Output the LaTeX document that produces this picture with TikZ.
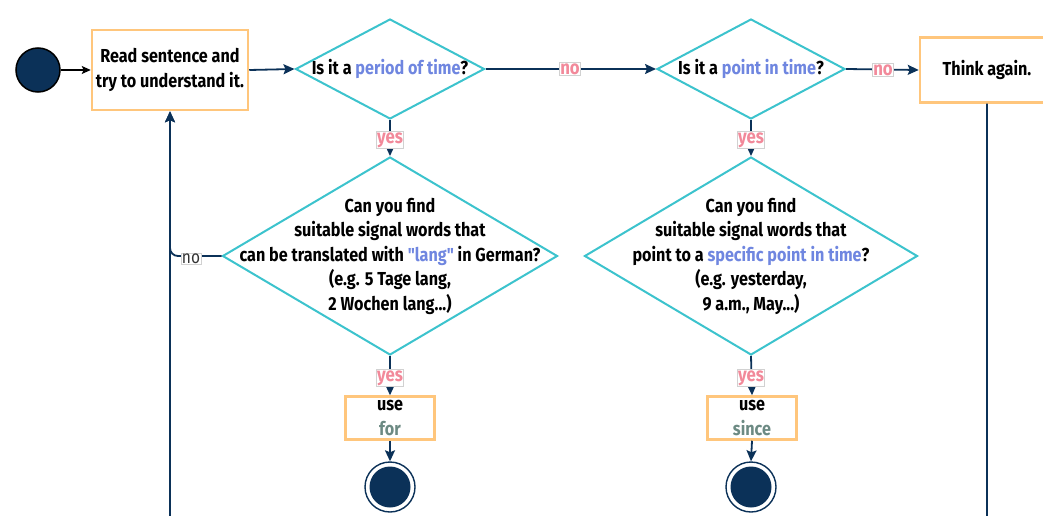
\documentclass[tikz,border=0pt]{standalone}
\usepackage{fontspec}
\setmainfont{Fira Sans}[FakeStretch=0.86, Ligatures=TeXOff]
\usetikzlibrary{shapes.geometric,arrows.meta}
\definecolor{navy}{HTML}{0B3158}
\definecolor{cyanb}{HTML}{3CC3CD}
\definecolor{orangeb}{HTML}{FFC67C}
\definecolor{hl}{HTML}{6F86E0}
\definecolor{pinkt}{HTML}{F2899A}
\definecolor{sage}{HTML}{6C8A83}
\tikzset{
  txt/.style={font=\fontsize{18.8}{24.5}\selectfont\bfseries, align=center, inner sep=0pt},
  box/.style={draw=orangeb, line width=2.5pt, fill=white, txt},
  dia/.style={diamond, draw=cyanb, line width=2pt, inner sep=0pt, fill=white},
  flow/.style={draw=navy, line width=1.8pt, -{Stealth[length=11pt,width=10pt,inset=2pt]}},
  thinflow/.style={draw=black, line width=1.1pt, -{Stealth[length=9pt,width=8pt,inset=2pt]}},
  lab/.style={draw=black!18, line width=0.6pt, fill=white, inner sep=0.8pt, text=pinkt,
    font=\fontsize{19.5}{22}\selectfont\bfseries},
  labg/.style={draw=black!18, line width=0.6pt, fill=white, inner sep=0.8pt, text=black!80,
    font=\fontsize{18}{22}\selectfont},
  startc/.style={circle, fill=navy, draw=black, line width=1.5pt, minimum size=44pt, inner sep=0pt},
  endo/.style={circle, draw=navy, line width=1.4pt, fill=white, minimum size=50pt, inner sep=0pt},
  endi/.style={circle, fill=navy, minimum size=41pt, inner sep=0pt},
}
\begin{document}
\begin{tikzpicture}[x=1pt,y=-1pt]
\useasboundingbox (0,0) rectangle (1043,516);
\clip (0,0) rectangle (1043,516);
% nodes
\node[startc] (s) at (38,70) {};
\node[box, minimum width=156pt, minimum height=80pt] (read) at (170,70) {Read sentence and\\try to understand it.};
\node[dia, minimum width=189pt, minimum height=100pt] (d1) at (390,69) {};
\node[txt] (d1t) at (d1) {Is it a \textcolor{hl}{period of time}?};
\node[dia, minimum width=188pt, minimum height=100pt] (d2) at (751,69) {};
\node[txt] (d2t) at (d2) {Is it a \textcolor{hl}{point in time}?};
\node[box, minimum width=134pt, minimum height=65pt] (think) at (987,70) {Think again.};
\node[dia, minimum width=335pt, minimum height=198pt] (d3) at (390,256) {};
\node[txt] (d3t) at (d3) {Can you find\\suitable signal words that\\can be translated with \textcolor{hl}{"lang"} in German?\\(e.g. 5 Tage lang,\\2 Wochen lang...)};
\node[dia, minimum width=333pt, minimum height=198pt] (d4) at (751,256) {};
\node[txt] (d4t) at (d4) {Can you find\\suitable signal words that\\point to a \textcolor{hl}{specific point in time}?\\(e.g. yesterday,\\9 a.m., May...)};
\node[box, minimum width=89pt, minimum height=43pt] (u1) at (390,418) {use\\\textcolor{sage}{for}};
\node[box, minimum width=89pt, minimum height=43pt] (u2) at (752,418) {use\\\textcolor{sage}{since}};
\node[endo] (e1) at (390,487) {};
\node[endi] (e1i) at (e1) {};
\node[endo] (e2) at (751,487) {};
\node[endi] (e2i) at (e2) {};
\coordinate (loopR) at (987,530);
% connectors
\draw[thinflow] (s.east) -- (read.west);
\draw[flow] (read.east) -- (d1.west);
\draw[flow] (d1.east) -- (d2.west);
\draw[flow] (d2.east) -- (think.west);
\draw[flow] (d1.south) -- (d3.north);
\draw[flow] (d2.south) -- (d4.north);
\draw[flow] (d3.south) -- (u1.north);
\draw[flow] (d4.south) -- (u2.north);
\draw[flow] (u1.south) -- (e1.north);
\draw[flow] (u2.south) -- (e2.north);
\draw[flow, rounded corners=8pt] (d3.west) -| (read.south);
\draw[flow, rounded corners=8pt] (think.south) -- (loopR) -| (read.south);
% labels
\node[lab] (n1) at (570,69) {no};
\node[lab] (n2) at (883,70) {no};
\node[lab] (y1) at (390,140) {yes};
\node[lab] (y2) at (751,140) {yes};
\node[lab] (y3) at (390,378) {yes};
\node[lab] (y4) at (751,378) {yes};
\node[labg] (n3) at (191,259) {no};
\end{tikzpicture}
\end{document}
